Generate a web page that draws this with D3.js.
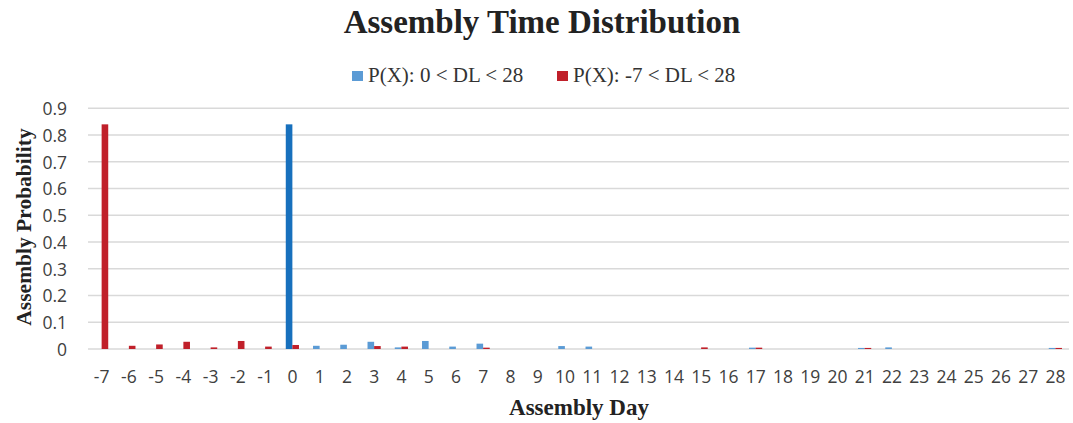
<!DOCTYPE html>
<html><head><meta charset="utf-8">
<script src="https://cdn.jsdelivr.net/npm/d3@7/dist/d3.min.js"></script>
<style>body{margin:0;background:#fff}svg{display:block}</style>
</head><body>
<svg id="c" width="1073" height="423"></svg>
<script>
const days = [-7,-6,-5,-4,-3,-2,-1,0,1,2,3,4,5,6,7,8,9,10,11,12,13,14,15,16,17,18,19,20,21,22,23,24,25,26,27,28];
const probA = [0,0,0,0,0,0,0,0.84,0.012,0.016,0.027,0.006,0.03,0.009,0.02,0,0,0.011,0.009,0,0,0,0,0,0.005,0,0,0,0.004,0.006,0,0,0,0,0,0.004];
const probB = [0.84,0.012,0.017,0.027,0.006,0.03,0.009,0.015,0,0,0.011,0.009,0,0,0.005,0,0,0,0,0,0,0,0.006,0,0.005,0,0,0,0.004,0,0,0,0,0,0,0.004];
const seriesNames = ["P(X): 0 < DL < 28", "P(X): -7 < DL < 28"];
const yTicks = [0,0.1,0.2,0.3,0.4,0.5,0.6,0.7,0.8,0.9];
const colors = ["#5b9bd5", "#c0202a"];
const strongColors = ["#1770bd", "#c0202a"];

const svg = d3.select("#c");
const m = {l:88, r:1069, t:108.3, b:349};
const x = d3.scaleBand().domain(days).range([m.l, m.r]).paddingInner(0).paddingOuter(0);
const y = d3.scaleLinear().domain([0,0.9]).range([m.b, m.t]);
const bw = 6.6;

svg.append("g").selectAll("line").data(yTicks).join("line")
  .attr("x1", m.l).attr("x2", m.r)
  .attr("y1", d=>y(d)).attr("y2", d=>y(d))
  .attr("stroke", "#d9d9d9").attr("stroke-width", 1.5);

const series = [probA, probB];
series.forEach((vals, si) => {
  svg.append("g").selectAll("rect").data(days.map((d,i)=>({d, v:vals[i]})).filter(o=>o.v>0)).join("rect")
    .attr("x", o => x(o.d) + x.bandwidth()/2 + (si===0 ? -bw : 0))
    .attr("width", bw)
    .attr("y", o => y(o.v))
    .attr("height", o => y(0) - y(o.v))
    .attr("fill", o => o.v > 0.5 ? strongColors[si] : colors[si]);
});

const yAxis = d3.axisLeft(y).tickValues(yTicks).tickSize(0).tickPadding(0).tickFormat(d=>d3.format("")(+d.toFixed(1)));
const ga = svg.append("g").attr("transform", `translate(67,0)`).call(yAxis);
ga.select(".domain").remove();
ga.selectAll("text").attr("font-family","'Open Sans', sans-serif").attr("font-size", 17.5).attr("fill","#404040").attr("dy","0.36em");

const xAxis = d3.axisBottom(x).tickSize(0).tickPadding(0);
const gx = svg.append("g").attr("transform", `translate(0,${m.b+22})`).call(xAxis);
gx.select(".domain").remove();
gx.selectAll("text").attr("font-family","'Open Sans', sans-serif").attr("font-size", 17.5).attr("fill","#404040").attr("dy","0.71em");

svg.append("text").attr("x", 542).attr("y", 33).attr("text-anchor","middle")
  .attr("font-family","'Liberation Serif', serif").attr("font-weight","bold").attr("font-size", 33)
  .attr("fill","#222").text("Assembly Time Distribution");

svg.append("text").attr("x", 579).attr("y", 415).attr("text-anchor","middle")
  .attr("font-family","'Liberation Serif', serif").attr("font-weight","bold").attr("font-size", 23)
  .attr("fill","#222").text("Assembly Day");
svg.append("text").attr("transform","translate(31,227) rotate(-90)").attr("text-anchor","middle")
  .attr("font-family","'Liberation Serif', serif").attr("font-weight","bold").attr("font-size", 21.5)
  .attr("fill","#222").text("Assembly Probability");

const legX = [352, 557];
seriesNames.forEach((n,i)=>{
  svg.append("rect").attr("x", legX[i]).attr("y", 71).attr("width", 11).attr("height", 10).attr("fill", colors[i]);
  svg.append("text").attr("x", legX[i]+16).attr("y", 82)
    .attr("font-family","'Liberation Serif', serif").attr("font-size", 21).attr("fill","#333").text(n);
});
</script>
</body></html>
